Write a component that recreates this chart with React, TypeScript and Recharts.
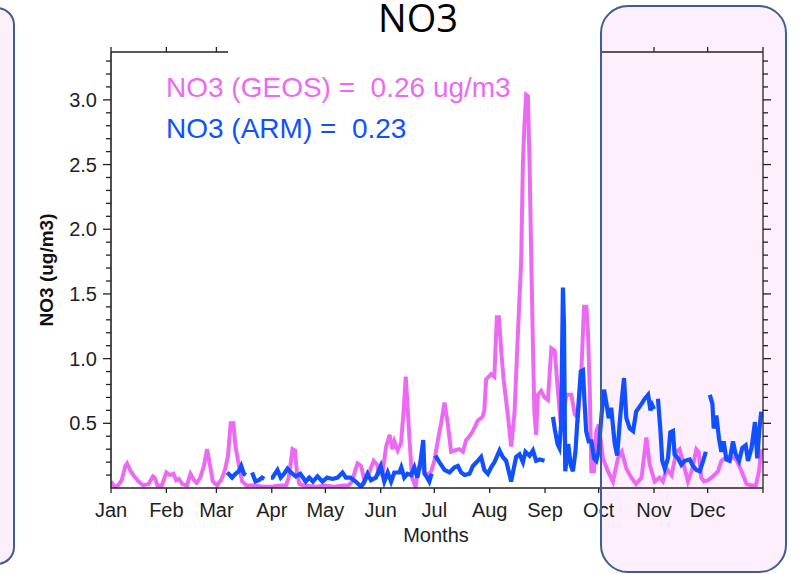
import { LineChart, Line, XAxis, YAxis } from 'recharts'

const monthNames = ['Jan', 'Feb', 'Mar', 'Apr', 'May', 'Jun', 'Jul', 'Aug', 'Sep', 'Oct', 'Nov', 'Dec']
const monthStarts = [0, 31, 59, 90, 120, 151, 181, 212, 243, 273, 304, 334, 365]
const yTicks = [
  0.1, 0.2, 0.3, 0.4, 0.5, 0.6, 0.7, 0.8, 0.9, 1.0, 1.1, 1.2, 1.3, 1.4, 1.5, 1.6, 1.7,
  1.8, 1.9, 2.0, 2.1, 2.2, 2.3, 2.4, 2.5, 2.6, 2.7, 2.8, 2.9, 3.0, 3.1, 3.2, 3.3,
]

// GEOS-Chem NO3, day of year -> ug/m3
const geosDay = [
  0, 2, 4, 6, 8, 9, 11, 13, 15.5, 18, 21, 23.5, 24.5, 26, 28.5, 31, 33, 35, 36.5, 38, 40, 42.5,
  44.5, 46.5, 48, 50, 52, 53.8, 55.5, 57, 59.4, 62, 64, 65.5, 67, 68.5, 69.7, 71.5, 73.4, 76, 80,
  85, 90, 95, 98, 99.5, 100.7, 101.6, 103, 104, 105.5, 108, 115, 120, 125, 130, 133, 135, 137,
  138, 140, 142, 144.6, 147, 149, 150, 152, 154, 156, 157.5, 158.6, 160.5, 162.4, 163.9, 165, 166,
  167, 168.5, 170.5, 172, 173.6, 175.5, 178, 179.5, 181, 183, 184.8, 186.7, 188.5, 190.4, 192.3,
  195, 197, 198.8, 200.7, 202.6, 205.3, 208, 209, 210, 212.8, 214.6, 216, 217.2, 218.4, 219.7,
  221, 222.5, 224, 225.9, 227.5, 229.6, 230.6, 231.5, 232.4, 233.4, 234.3, 235.3, 236.2, 237, 238,
  239, 240.8, 242.7, 244.6, 246.5, 248.4, 250.2, 252, 254.9, 257.7, 259.6, 261.4, 263.3, 264.8,
  266.1, 267, 268, 268.9, 270.4, 271.7, 273, 275.4, 278.2, 281, 283.8, 286, 288.5, 291.3, 294, 297,
  299.7, 301.6, 304.4, 307, 309, 311, 313.8, 316.5, 318.3, 321.2, 323, 325.5, 327.7, 329, 330.4,
  332, 334.3, 337, 339.9, 341.7, 344.5, 347.3, 350, 353, 355.8, 358.6, 361, 362.8, 364,
]
const geosNO3 = [
  0.05, 0.01, 0.02, 0.06, 0.17, 0.19, 0.13, 0.09, 0.05, 0.02, 0.03, 0.09, 0.08, 0.02, 0.02, 0.12,
  0.1, 0.11, 0.06, 0.07, 0.03, 0.02, 0.11, 0.06, 0.04, 0.08, 0.17, 0.3, 0.17, 0.05, 0.02, 0.07,
  0.15, 0.25, 0.5, 0.5, 0.32, 0.18, 0.05, 0.02, 0.02, 0.01, 0.01, 0.02, 0.02, 0.08, 0.2, 0.3, 0.29,
  0.13, 0.03, 0.02, 0.01, 0.02, 0.01, 0.02, 0.02, 0.05, 0.15, 0.19, 0.17, 0.05, 0.12, 0.21, 0.18,
  0.11, 0.11, 0.32, 0.41, 0.3, 0.36, 0.29, 0.35, 0.61, 0.86, 0.63, 0.4, 0.08, 0.01, 0.15, 0.21, 0.12,
  0.1, 0.14, 0.21, 0.37, 0.5, 0.66, 0.5, 0.28, 0.29, 0.3, 0.28, 0.37, 0.4, 0.44, 0.52, 0.55, 0.6,
  0.84, 0.88, 0.86, 1.32, 1.32, 1.07, 0.85, 0.7, 0.52, 0.32, 0.58, 1.1, 1.75, 2.52, 2.82, 3.04, 3.03,
  2.52, 1.75, 1.11, 0.59, 0.41, 0.72, 0.75, 0.7, 0.68, 1.08, 1.06, 0.75, 0.46, 0.72, 0.72, 0.57,
  0.54, 0.9, 1.4, 1.4, 1.21, 0.77, 0.13, 0.13, 0.44, 0.49, 0.23, 0.13, 0.05, 0.23, 0.28, 0.15, 0.08,
  0.03, 0.08, 0.39, 0.18, 0.05, 0.08, 0.05, 0.15, 0.1, 0.28, 0.3, 0.15, 0.05, 0.15, 0.3, 0.28, 0.08,
  0.05, 0.06, 0.09, 0.13, 0.21, 0.24, 0.24, 0.22, 0.13, 0.03, 0.02, 0.02, 0.13, 0.3,
]

// ARM observed NO3, day of year -> ug/m3 (null = missing)
const armDay = [
  65, 66.5, 67.8, 69.7, 71.6, 72.9, 74.4, 75.5, 77, 79, 80.9, 82.8, 84.6, 85.8, 87.5, 89.5, 90.4,
  93.2, 95, 96.9, 98.8, 100.7, 103.5, 106, 109, 111, 113, 115.6, 118.4, 121, 124, 126.8, 129.6,
  131.5, 134, 137, 140, 141.8, 143.6, 145.5, 148.3, 151, 153, 154.9, 156.8, 158.6, 161.4, 162.5,
  164.2, 166, 168, 169.8, 171.5, 173, 174.8, 175.5, 177, 178.2, 179.5, 180.5, 181.6, 183.8, 186.7,
  189.5, 192.3, 194.2, 196, 197.9, 200.7, 202.6, 205.3, 207.2, 209, 211, 212.8, 214.7, 217.5,
  219.3, 221.2, 223, 224, 225.3, 226.8, 228.7, 230.6, 232, 234.3, 236.2, 238, 240, 242.7, 245,
  247.4, 248.5, 250, 251, 252, 253, 253.6, 254.3, 256, 257.3, 258.6, 260, 261.4, 263, 264.2, 265,
  266, 267.4, 269, 270.4, 271.7, 273, 274.5, 276, 277.4, 278.6, 280, 282, 283.4, 284.8, 286, 287.2,
  288.5, 290.4, 292.3, 294, 297, 298.8, 300.7, 302, 303, 304, 305, 306.2, 307.5, 308.6, 310, 311.8,
  313.1, 314.6, 315.5, 317.4, 319.3, 321.2, 324, 325.8, 327.7, 329.6, 331.5, 333, 334, 335.2,
  336.7, 337.4, 338.9, 340.4, 341.7, 343, 344.5, 346.3, 348.2, 349.7, 351.6, 353.4, 355.3, 356.6,
  358.6, 360.5, 361.8, 362.9, 364,
]
const armNO3 = [
  0.12, 0.1, 0.08, 0.11, 0.13, 0.17, 0.11, 0.1, null, 0.12, 0.05, 0.06, 0.08, 0.07, null, 0.08,
  0.08, 0.14, 0.08, 0.11, 0.15, 0.12, 0.09, 0.11, 0.05, 0.08, 0.05, 0.09, 0.05, 0.08, 0.07, 0.08,
  0.12, 0.08, 0.08, 0.05, 0.01, 0.05, 0.11, 0.06, 0.08, 0.17, 0.05, 0.12, 0.05, 0.12, 0.12, 0.16,
  0.08, 0.11, 0.1, 0.16, 0.08, 0.18, 0.37, 0.11, 0.08, 0.05, 0.11, null, 0.25, 0.2, 0.14, 0.12,
  0.16, 0.17, 0.12, 0.1, 0.11, 0.17, 0.21, 0.24, 0.14, 0.11, 0.16, 0.2, 0.29, 0.24, 0.21, 0.11,
  0.05, 0.14, 0.24, 0.26, 0.2, 0.28, 0.25, 0.29, 0.21, 0.22, 0.21, null, 0.55, 0.45, 0.34, 0.31,
  0.49, 1.55, 1.26, 0.13, 0.34, 0.18, 0.13, 0.28, 0.59, 0.9, 0.91, 0.69, 0.44, 0.36, 0.36, 0.23,
  0.21, 0.28, 0.55, 0.76, 0.65, 0.54, 0.62, 0.34, 0.25, 0.51, 0.69, 0.85, 0.54, 0.46, 0.44, 0.59,
  0.65, 0.69, 0.72, 0.6, 0.64, 0.61, null, 0.69, 0.46, 0.21, 0.15, 0.23, 0.43, 0.44, 0.26, 0.23,
  0.18, 0.21, 0.22, 0.17, 0.14, 0.13, 0.21, 0.28, null, 0.72, 0.65, 0.46, 0.56, 0.38, 0.28, 0.36,
  0.22, 0.21, 0.36, 0.26, 0.21, 0.31, 0.33, 0.21, 0.31, 0.51, 0.23, 0.44, 0.59,
]

const geosData = geosDay.map((d, i) => ({ day: d, no3: geosNO3[i] }))
const armData = armDay.map((d, i) => ({ day: d, no3: armNO3[i] }))

const PINK = '#ec6af3'
const BLUE = '#1050ff'
const AXIS = '#222'
const FONT = '"Liberation Sans", Arial, sans-serif'
const BOX_FILL = '#fdf0fc'
const BOX_LINE = '#3e5e8f'

const isMajor = (v: number) => Math.round(v * 10) % 5 === 0

const leftTick = (p: any) => {
  const { x, y, payload } = p
  const v = payload.value
  return (
    <g>
      <line x1={x - (isMajor(v) ? 8 : 5)} x2={x} y1={y} y2={y} stroke={AXIS} strokeWidth={1.3} />
      {isMajor(v) && (
        <text x={x - 14} y={y} dy={7} textAnchor="end" fontSize={20} fontFamily={FONT} fill="#1e1e1e">
          {v.toFixed(1)}
        </text>
      )}
    </g>
  )
}

const rightTick = (p: any) => {
  const { x, y, payload } = p
  return <line x1={x} x2={x + (isMajor(payload.value) ? 8 : 5)} y1={y} y2={y} stroke={AXIS} strokeWidth={1.3} />
}

const bottomTick = (p: any) => {
  const { x, y, index } = p
  return (
    <g>
      <line x1={x} x2={x} y1={y} y2={y + 5} stroke={AXIS} strokeWidth={1.3} />
      {index < monthNames.length && (
        <text x={x} y={y + 29} textAnchor="middle" fontSize={20} fontFamily={FONT} fill="#1e1e1e">
          {monthNames[index]}
        </text>
      )}
    </g>
  )
}

const topTick = (p: any) => {
  const { x, y } = p
  return <line x1={x} x2={x} y1={y} y2={y - 5} stroke={AXIS} strokeWidth={1.3} />
}

export default function App() {
  return (
    <div style={{ position: 'absolute', left: 0, top: 0, width: 800, height: 574, background: '#fff', overflow: 'hidden' }}>
      <div style={{ position: 'absolute', left: -30, top: 7, width: 45, height: 558, borderRadius: 18, background: BOX_FILL }} />
      <div style={{ position: 'absolute', left: 600, top: 5, width: 187, height: 568, borderRadius: 28, background: BOX_FILL }} />

      <div style={{ position: 'absolute', left: 0, top: 0 }}>
        <LineChart width={800} height={574} margin={{ top: 42, right: 25, bottom: 46, left: 51 }}>
          <XAxis
            xAxisId="bottom"
            type="number"
            dataKey="day"
            domain={[0, 365]}
            ticks={monthStarts}
            interval={0}
            height={40}
            tickSize={0}
            tickMargin={0}
            tickLine={false}
            axisLine={{ stroke: AXIS, strokeWidth: 1.6 }}
            tick={bottomTick}
            allowDataOverflow
          />
          <XAxis
            xAxisId="top"
            orientation="top"
            type="number"
            dataKey="day"
            domain={[0, 365]}
            ticks={monthStarts}
            interval={0}
            height={10}
            tickSize={0}
            tickMargin={0}
            tickLine={false}
            axisLine={{ stroke: AXIS, strokeWidth: 1.3 }}
            tick={topTick}
            allowDataOverflow
          />
          <YAxis
            yAxisId="left"
            type="number"
            domain={[0, 3.37]}
            ticks={yTicks}
            interval={0}
            width={60}
            tickSize={0}
            tickMargin={0}
            tickLine={false}
            axisLine={{ stroke: AXIS, strokeWidth: 1.6 }}
            tick={leftTick}
            allowDataOverflow
          />
          <YAxis
            yAxisId="right"
            orientation="right"
            type="number"
            domain={[0, 3.37]}
            ticks={yTicks}
            interval={0}
            width={12}
            tickSize={0}
            tickMargin={0}
            tickLine={false}
            axisLine={{ stroke: AXIS, strokeWidth: 1.3 }}
            tick={rightTick}
            allowDataOverflow
          />
          <Line
            data={geosData}
            xAxisId="bottom"
            yAxisId="left"
            dataKey="no3"
            type="linear"
            stroke={PINK}
            strokeWidth={4}
            dot={false}
            isAnimationActive={false}
          />
          <Line
            data={armData}
            xAxisId="top"
            yAxisId="right"
            dataKey="no3"
            type="linear"
            stroke={BLUE}
            strokeWidth={4.2}
            dot={false}
            connectNulls={false}
            isAnimationActive={false}
          />
        </LineChart>
      </div>

      {/* the title box hides the middle of the top axis */}
      <div style={{ position: 'absolute', left: 228, top: 36, width: 373, height: 22, background: '#fff' }} />

      <div style={{ position: 'absolute', left: -30, top: 7, width: 45, height: 558, borderRadius: 18, border: `2.5px solid ${BOX_LINE}`, boxSizing: 'border-box' }} />
      <div style={{ position: 'absolute', left: 600, top: 5, width: 187, height: 568, borderRadius: 28, border: `2.5px solid ${BOX_LINE}`, boxSizing: 'border-box' }} />

      <svg width={800} height={574} style={{ position: 'absolute', left: 0, top: 0 }}>
        <text x={418} y={32} textAnchor="middle" fontSize={38} fontFamily='"Open Sans", "Noto Sans", sans-serif' fill="#000">
          NO3
        </text>
        <text x={166} y={97} fontSize={28} fontFamily={FONT} fill={PINK} style={{ whiteSpace: 'pre' }}>
          {'NO3 (GEOS) =  0.26 ug/m3'}
        </text>
        <text x={166} y={138} fontSize={28} fontFamily={FONT} fill={BLUE} style={{ whiteSpace: 'pre' }}>
          {'NO3 (ARM) =  0.23'}
        </text>
        <text x={436} y={542} textAnchor="middle" fontSize={20} fontFamily={FONT} fill="#1e1e1e">
          Months
        </text>
        <text
          x={0}
          y={0}
          transform="translate(53, 270) rotate(-90)"
          textAnchor="middle"
          fontSize={19}
          fontWeight="bold"
          fontFamily={FONT}
          fill="#111"
        >
          NO3 (ug/m3)
        </text>
      </svg>
    </div>
  )
}
